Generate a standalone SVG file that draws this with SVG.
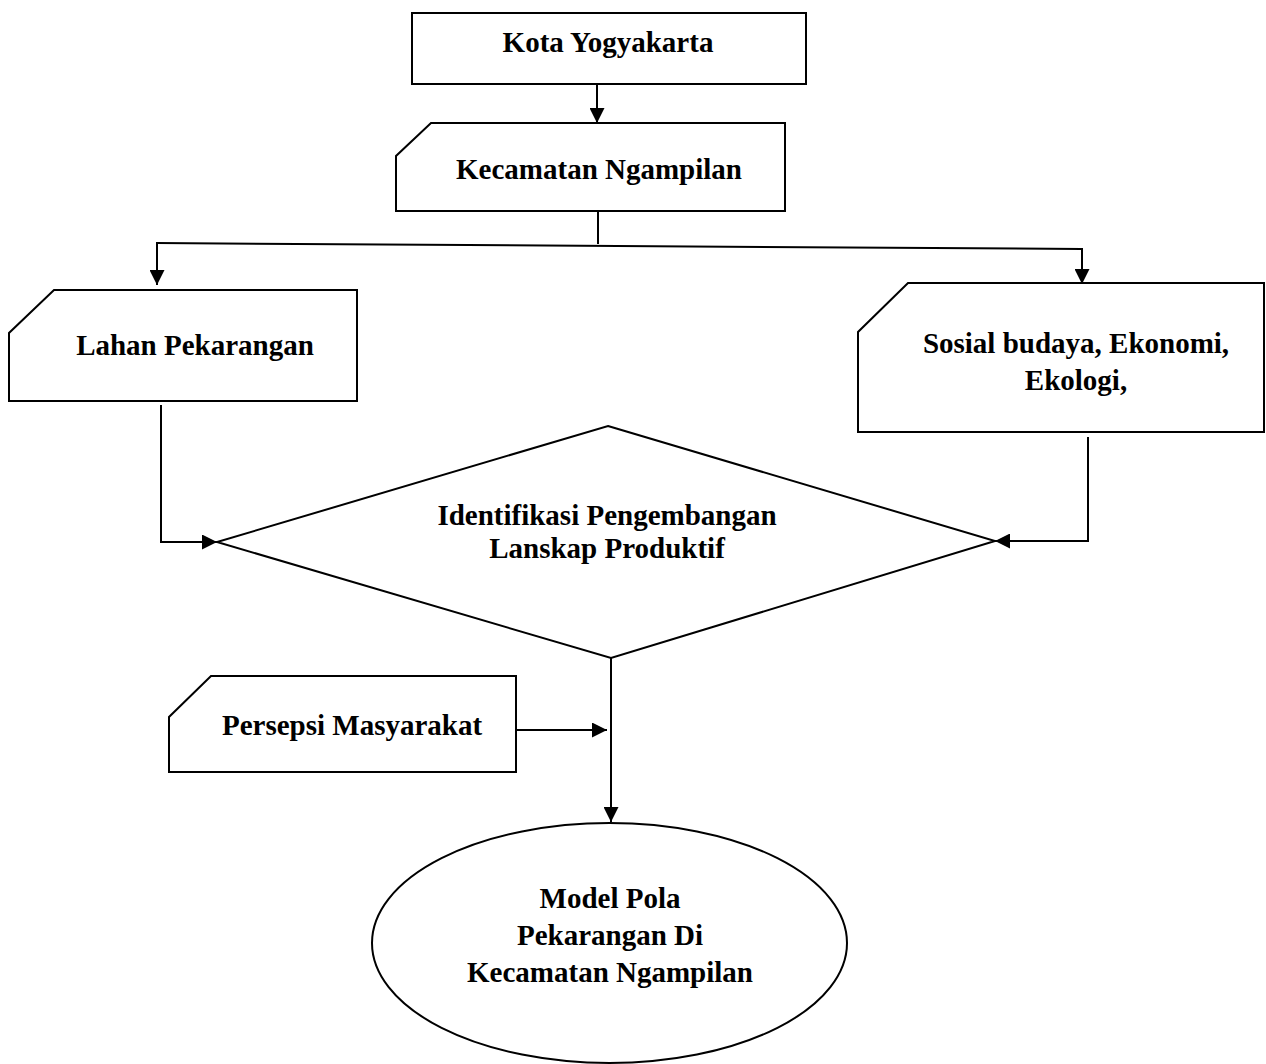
<svg xmlns="http://www.w3.org/2000/svg" width="1266" height="1064" viewBox="0 0 1266 1064">
<style>
.s{fill:#fff;stroke:#000;stroke-width:2}
.c{fill:none;stroke:#000;stroke-width:2}
.t{font-family:"Liberation Serif","Times New Roman",serif;font-weight:bold;font-size:29px;fill:#000;text-anchor:middle}
</style>
<defs>
<marker id="ah" viewBox="0 0 10 10" refX="10" refY="5" markerWidth="15" markerHeight="15" markerUnits="userSpaceOnUse" orient="auto">
<path d="M0,0 L10,5 L0,10 Z" fill="#000"/>
</marker>
</defs>
<rect width="1266" height="1064" fill="#fff"/>
<g id="connectors">
<line class="c" x1="597" y1="84" x2="597" y2="123" marker-end="url(#ah)"/>
<line class="c" x1="598" y1="211" x2="598" y2="244"/>
<line class="c" x1="156" y1="243" x2="1082" y2="249"/>
<line class="c" x1="157" y1="243" x2="157" y2="285" marker-end="url(#ah)"/>
<line class="c" x1="1082" y1="248" x2="1082" y2="284" marker-end="url(#ah)"/>
<polyline class="c" points="161,405 161,542 217,542" marker-end="url(#ah)"/>
<polyline class="c" points="1088,437 1088,541 995,541" marker-end="url(#ah)"/>
<line class="c" x1="516" y1="730" x2="607" y2="730" marker-end="url(#ah)"/>
<line class="c" x1="611" y1="658" x2="611" y2="822" marker-end="url(#ah)"/>
</g>
<g id="kota">
<rect class="s" x="412" y="13" width="394" height="71"/>
<text class="t" x="608" y="52">Kota Yogyakarta</text>
</g>
<g id="kecamatan">
<path class="s" d="M431,123 L785,123 L785,211 L396,211 L396,156 Z"/>
<text class="t" x="599" y="179">Kecamatan Ngampilan</text>
</g>
<g id="lahan">
<path class="s" d="M54,290 L357,290 L357,401 L9,401 L9,333 Z"/>
<text class="t" x="195" y="355">Lahan Pekarangan</text>
</g>
<g id="sosial">
<path class="s" d="M908,283 L1264,283 L1264,432 L858,432 L858,332 Z"/>
<text class="t" x="1076" y="353">Sosial budaya, Ekonomi,</text>
<text class="t" x="1076" y="390">Ekologi,</text>
</g>
<g id="identifikasi">
<path class="s" d="M608,426 L995,541 L611,658 L217,542 Z"/>
<text class="t" x="607" y="525">Identifikasi Pengembangan</text>
<text class="t" x="607" y="558">Lanskap Produktif</text>
</g>
<g id="persepsi">
<path class="s" d="M211,676 L516,676 L516,772 L169,772 L169,717 Z"/>
<text class="t" x="352" y="735">Persepsi Masyarakat</text>
</g>
<g id="model">
<ellipse class="s" cx="609.5" cy="943" rx="237.5" ry="120"/>
<text class="t" x="610" y="908">Model Pola</text>
<text class="t" x="610" y="945">Pekarangan Di</text>
<text class="t" x="610" y="982">Kecamatan Ngampilan</text>
</g>
</svg>
